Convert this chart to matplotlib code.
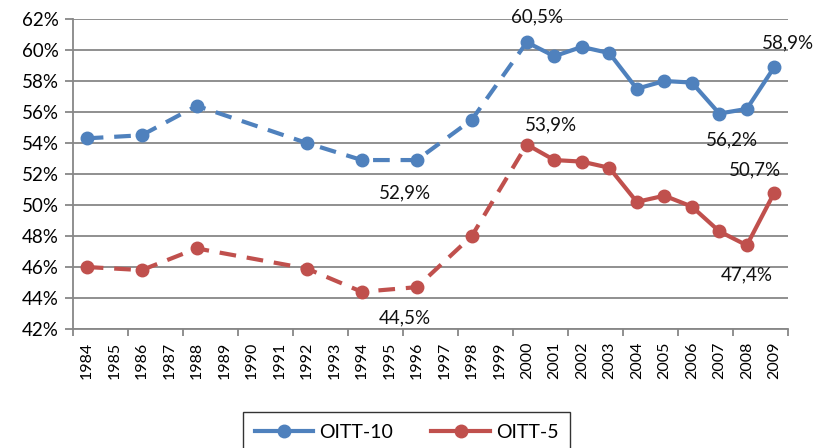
import matplotlib.pyplot as plt
from matplotlib.lines import Line2D
from matplotlib.ticker import FuncFormatter

# category axis and the years that carry a value
categories = [str(y) for y in range(1984, 2010)]
point_years = ['1984', '1986', '1988', '1992', '1994', '1996', '1998', '2000',
               '2001', '2002', '2003', '2004', '2005', '2006', '2007', '2008',
               '2009']
oitt10 = [54.3, 54.5, 56.4, 54.0, 52.9, 52.9, 55.5, 60.5,
          59.6, 60.2, 59.8, 57.5, 58.0, 57.9, 55.9, 56.2, 58.9]
oitt5 = [46.0, 45.8, 47.2, 45.9, 44.4, 44.7, 48.0, 53.9,
         52.9, 52.8, 52.4, 50.2, 50.6, 49.9, 48.3, 47.4, 50.8]
split_year = '2000'  # dashed before, solid after

# (series, year, text, offset in pixels)
labels = [
    ('OITT-10', '2000', '60,5%', (10, 25)),
    ('OITT-10', '2009', '58,9%', (14, 24)),
    ('OITT-10', '2008', '56,2%', (-15, -31)),
    ('OITT-10', '1996', '52,9%', (-12, -33)),
    ('OITT-5', '2000', '53,9%', (24, 20)),
    ('OITT-5', '2009', '50,7%', (-19, 23)),
    ('OITT-5', '2008', '47,4%', (0, -30)),
    ('OITT-5', '1996', '44,5%', (-12, -31)),
]

BLUE = '#4F81BD'
RED = '#C0504D'
GRID = '#878787'

plt.rcParams['font.family'] = ['Lato', 'DejaVu Sans']

fig = plt.figure(figsize=(8.21, 4.48), dpi=100)
ax = fig.add_axes([0.0889, 0.2656, 0.871, 0.692])

xpos = [categories.index(y) for y in point_years]
cut = point_years.index(split_year)
series = {'OITT-10': (oitt10, BLUE), 'OITT-5': (oitt5, RED)}

for name, (vals, col) in series.items():
    ax.plot(xpos[:cut + 1], vals[:cut + 1], color=col, lw=3,
            dashes=(4, 2.6), dash_capstyle='butt', zorder=3)
    ax.plot(xpos[cut:], vals[cut:], color=col, lw=3, zorder=3)
    ax.plot(xpos, vals, ls='none', marker='o', ms=9, color=col, zorder=4)

for name, year, text, off in labels:
    vals = series[name][0]
    i = point_years.index(year)
    ax.annotate(text, (xpos[i], vals[i]), xytext=off,
                textcoords='offset pixels', ha='center', va='center',
                fontsize=13.5, color='#111111')

ax.set_xlim(-0.5, len(categories) - 0.5)
ax.set_ylim(42, 62)
ax.set_yticks(range(42, 63, 2))
ax.yaxis.set_major_formatter(FuncFormatter(lambda v, p: f'{v:.0f}%'))
ax.grid(axis='y', color=GRID, lw=1.3)
ax.set_axisbelow(True)

ax.set_xticks(range(len(categories)))
ax.set_xticklabels(categories, rotation=90, fontsize=11.5)
ax.set_xticks([x - 0.5 for x in range(0, len(categories) + 1, 2)], minor=True)
ax.tick_params(axis='x', which='major', length=0, pad=9)
ax.tick_params(axis='x', which='minor', length=5, width=1.3, color=GRID,
               direction='out')
ax.tick_params(axis='y', length=6, width=1.3, color=GRID, labelsize=13.5,
               pad=4)

for s in ['top', 'right']:
    ax.spines[s].set_visible(False)
for s in ['left', 'bottom']:
    ax.spines[s].set_color(GRID)
    ax.spines[s].set_linewidth(1.3)

handles = [Line2D([], [], color=BLUE, lw=3, marker='o', ms=9),
           Line2D([], [], color=RED, lw=3, marker='o', ms=9)]
leg = fig.legend(handles, list(series.keys()), loc='upper center',
                 bbox_to_anchor=(0.495, 0.101), ncol=2, fontsize=14,
                 frameon=True, fancybox=False, handlelength=3.0,
                 handletextpad=0.3, columnspacing=2.0, borderpad=0.6)
leg.get_frame().set_edgecolor('black')
leg.get_frame().set_linewidth(1.0)

fig.savefig('out.png', dpi=100)
